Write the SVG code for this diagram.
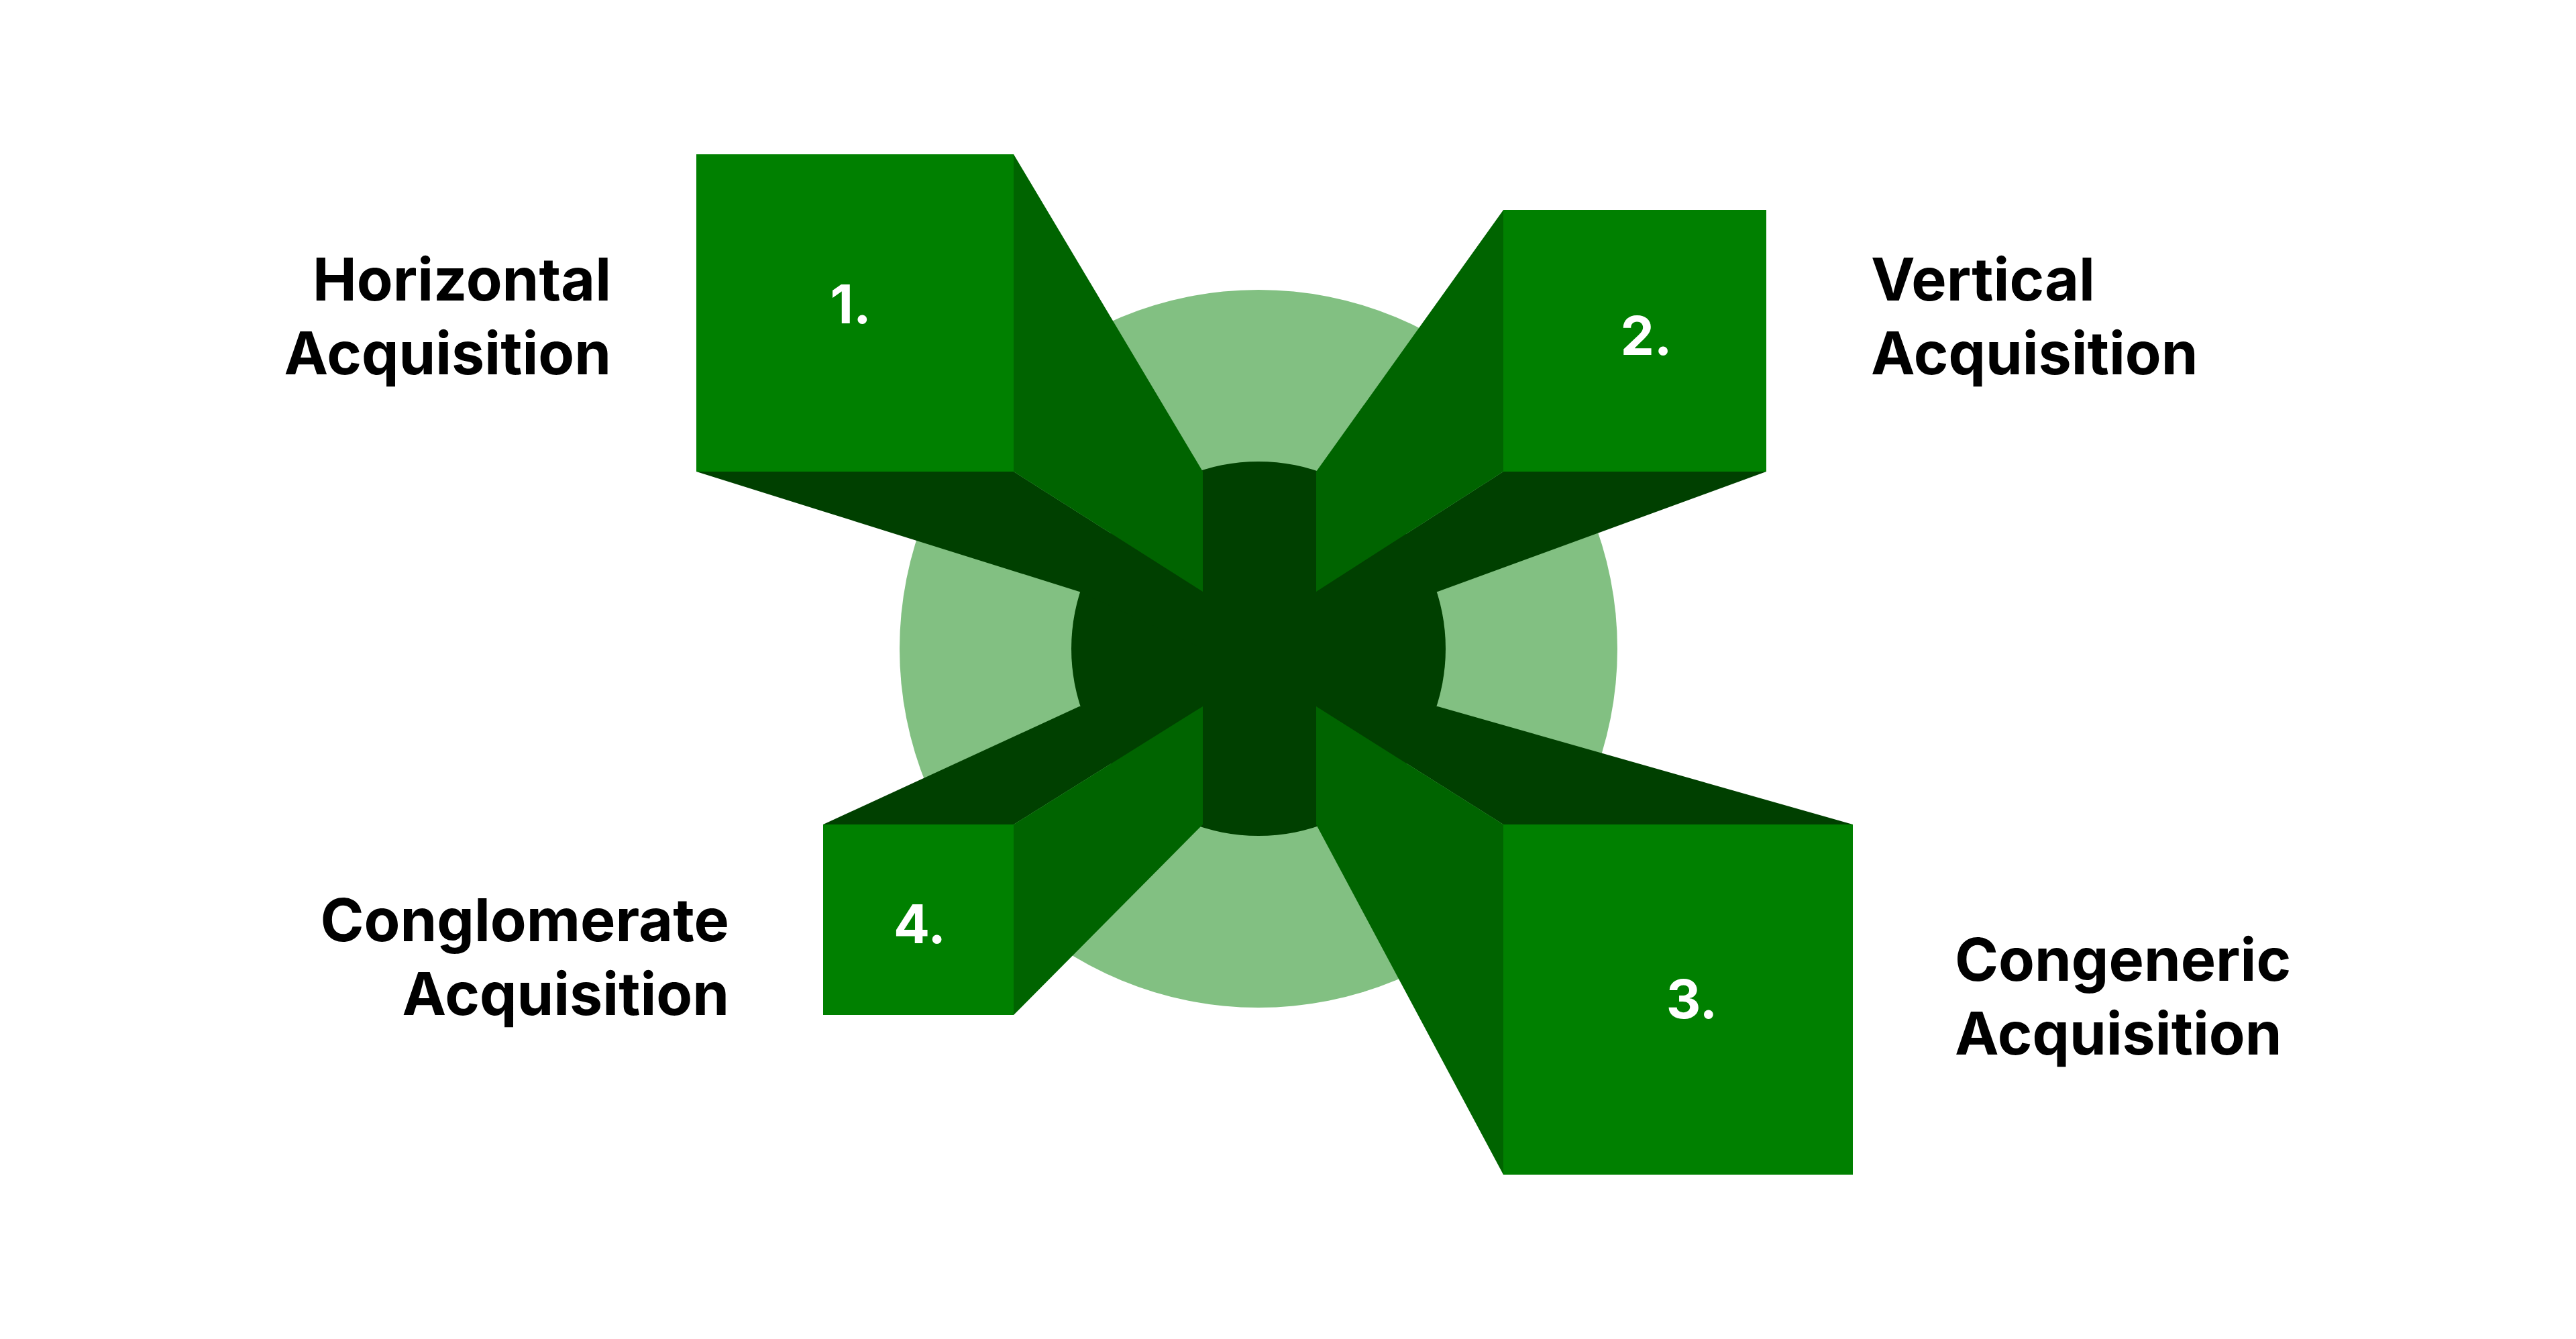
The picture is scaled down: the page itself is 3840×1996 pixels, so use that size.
<svg xmlns="http://www.w3.org/2000/svg" width="3840" height="1996" viewBox="0 0 3840 1996">
<style>
.front{fill:#008000}.side{fill:#006400}.dark{fill:#004000}
.lbl{font-family:Inter,"Liberation Sans",sans-serif;font-weight:700;font-size:88px;fill:#000}
.num{font-family:Inter,"Liberation Sans",sans-serif;font-weight:700;font-size:80px;fill:#fff;text-anchor:middle}
</style>
<rect width="3840" height="1996" fill="#fff"/>
<g id="background">
<circle cx="1876" cy="967" r="535" fill="#82c082"/>
<circle cx="1876" cy="967" r="279" class="dark"/>
</g>
<g id="node1">
<polygon class="dark" points="1038,703 1511,703 1793,882 1793,967 1609,882"/>
<polygon class="side" points="1511,230 1793,703 1793,882 1511,703"/>
<rect class="front" x="1038" y="230" width="473" height="473"/>
<text class="num" x="1268" y="482">1.</text>
<text class="lbl" x="911" y="448" text-anchor="end">Horizontal</text>
<text class="lbl" x="911" y="558" text-anchor="end">Acquisition</text>
</g>
<g id="node2">
<polygon class="dark" points="2241,703 2633,703 2143,882 1962,882"/>
<polygon class="side" points="2241,313 1962,703 1962,882 2241,703"/>
<rect class="front" x="2241" y="313" width="392" height="390"/>
<text class="num" x="2454" y="529">2.</text>
<text class="lbl" x="2789" y="448">Vertical</text>
<text class="lbl" x="2789" y="558">Acquisition</text>
</g>
<g id="node3">
<polygon class="dark" points="1962,1053 2143,1053 2762,1229 2241,1229"/>
<polygon class="side" points="1962,1053 2241,1229 2241,1751 1962,1229"/>
<rect class="front" x="2241" y="1229" width="521" height="522"/>
<text class="num" x="2522" y="1518">3.</text>
<text class="lbl" x="2914" y="1462">Congeneric</text>
<text class="lbl" x="2914" y="1572">Acquisition</text>
</g>
<g id="node4">
<polygon class="dark" points="1227,1229 1511,1229 1793,1053 1609,1053"/>
<polygon class="side" points="1511,1229 1793,1053 1793,1229 1511,1513"/>
<rect class="front" x="1227" y="1229" width="284" height="284"/>
<text class="num" x="1371" y="1406">4.</text>
<text class="lbl" x="1087" y="1403" text-anchor="end">Conglomerate</text>
<text class="lbl" x="1087" y="1513" text-anchor="end">Acquisition</text>
</g>
<g id="connectors"/>
</svg>
